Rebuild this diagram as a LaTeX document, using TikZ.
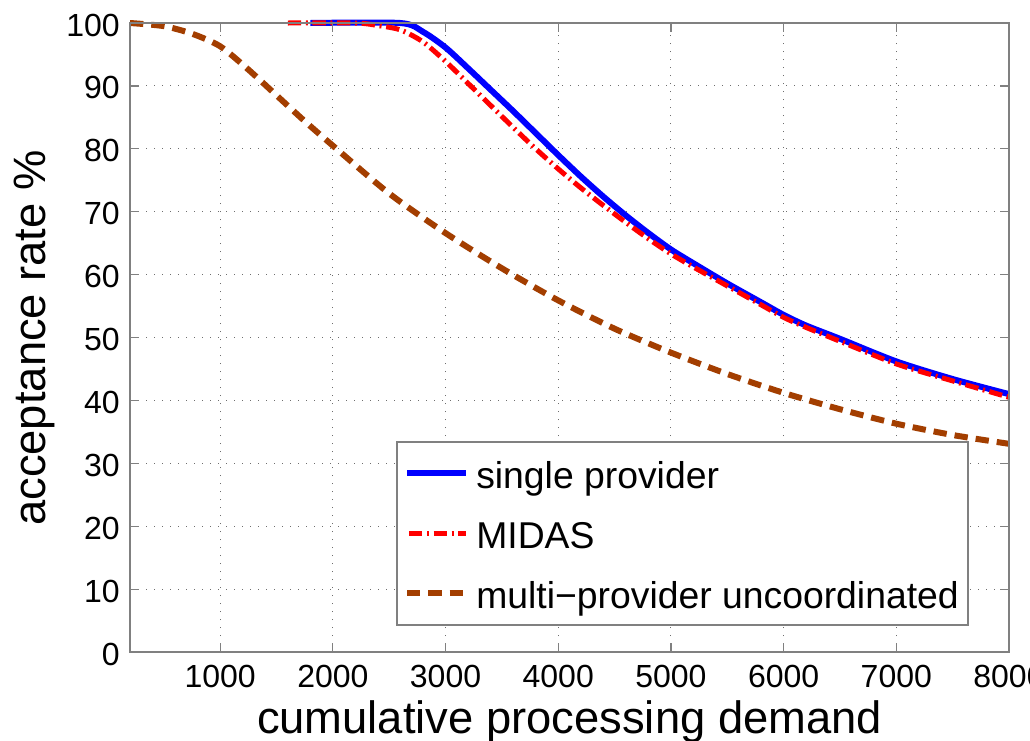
\documentclass[tikz,border=0pt]{standalone}
\usepackage{fontspec}
\setmainfont{Liberation Sans}
\definecolor{axgray}{RGB}{128,128,128}
\definecolor{gridgray}{RGB}{110,110,110}
\definecolor{mblue}{RGB}{0,0,255}
\definecolor{mred}{RGB}{255,0,0}
\definecolor{mbrown}{RGB}{163,62,0}
\begin{document}
\begin{tikzpicture}[x=0.75pt,y=-0.75pt,
  axisline/.style={draw=axgray,line width=0.9pt},
  gridline/.style={draw=gridgray,line width=0.8pt,dash pattern=on 0.8pt off 5.2pt},
  ticklabel/.style={font=\fontsize{24}{28}\selectfont,inner sep=0pt},
  axislabel/.style={font=\fontsize{34}{40}\selectfont,inner sep=0pt},
  legendlabel/.style={font=\fontsize{28}{32}\selectfont,inner sep=0pt,anchor=base west},
  singlestyle/.style={draw=mblue,line width=4.5pt},
  midasstyle/.style={draw=mred,line width=3.75pt,dash pattern=on 10pt off 3.5pt on 1.5pt off 3.5pt},
  multistyle/.style={draw=mbrown,line width=4.5pt,dash pattern=on 10pt off 6pt}]
\clip (0,0) rectangle (1030,740);
\fill[white] (0,0) rectangle (1030,740);
\begin{scope}[shift={(107.46,652)},x=0.084518pt,y=4.7175pt]
  % grid
  \foreach \v in {1000,2000,...,7000} \draw[gridline] (\v,0) -- (\v,100);
  \foreach \p in {10,20,...,90} \draw[gridline] (200,\p) -- (8000,\p);
  % curves
  \draw[singlestyle,line join=round] plot[smooth,tension=0.45] coordinates {
    (1800,100) (2600,100) (2800,98.6) (3000,96.1) (3200,92.8) (3400,89.4) (3600,86) (3800,82.5)
    (4000,79) (4200,75.6) (4400,72.4) (4600,69.4) (4800,66.6) (5000,64) (5200,61.8)
    (5500,58.6) (5800,55.6) (6000,53.6) (6200,51.9) (6500,49.8) (7000,46.2) (7500,43.4) (8000,41)};
  \draw[midasstyle] plot[smooth,tension=0.45] coordinates {
    (1600,100) (2200,100) (2400,99.6) (2600,98.9) (2800,97) (3000,93.9) (3200,90.4) (3400,86.9)
    (3600,83.4) (3800,80) (4000,76.8) (4200,73.8) (4400,71) (4600,68.3) (4800,65.7)
    (5000,63.3) (5200,61.2) (5500,58.2) (5800,55.2) (6000,53.2) (6200,51.6) (6500,49.4)
    (7000,45.8) (7500,43.1) (8000,40.5)};
  \draw[multistyle] plot[smooth,tension=0.45] coordinates {
    (200,100) (500,99.5) (750,98.3) (1000,96.3) (1250,92.6) (1500,88.5) (1750,84.4) (2000,80.5)
    (2500,72.9) (3000,66.6) (3500,61) (4000,55.9) (4500,51.4) (5000,47.6) (5500,44.2)
    (6000,41.2) (6500,38.6) (7000,36.3) (7500,34.5) (8000,33.1)};
  % ticks
  \foreach \v in {1000,2000,...,7000} {
    \draw[axisline] (\v,0) -- ++(0,1.43);
    \draw[axisline] (\v,100) -- ++(0,-1.43);
  }
  \foreach \p in {10,20,...,90} {
    \draw[axisline] (200,\p) -- ++(80,0);
    \draw[axisline] (8000,\p) -- ++(-80,0);
  }
  \draw[axisline] (200,0) rectangle (8000,100);
  % tick labels
  \foreach \v in {1000,2000,...,8000}
    \node[ticklabel,anchor=base] (xt\v) at (\v,0) [yshift=-26.25pt] {\v};
  \foreach \p in {0,10,...,100}
    \node[ticklabel,anchor=east] (yt\p) at (200,\p) [xshift=-7.5pt,yshift=-1.5pt] {\p};
\end{scope}
% axis labels
\node[axislabel,anchor=base] (xlabel) at (569.5,733) {cumulative processing demand};
\node[axislabel,anchor=base,rotate=90] (ylabel) at (45,338) {acceptance rate \%};
% legend
\draw[draw=axgray,line width=0.9pt,fill=white] (397,442) rectangle (968,625);
\coordinate (l1a) at (407,473); \coordinate (l1b) at (466,473);
\coordinate (l2a) at (407,533); \coordinate (l2b) at (466,533);
\coordinate (l3a) at (407,593); \coordinate (l3b) at (466,593);
\draw[singlestyle] (l1a) -- (l1b);
\draw[midasstyle,dash phase=-1.5pt] (l2a) -- (l2b);
\draw[multistyle] (l3a) -- (l3b);
\node[legendlabel] (t1) at (476,488) {single provider};
\node[legendlabel] (t2) at (476,548) {MIDAS};
\node[legendlabel] (t3) at (476,608) {multi−provider uncoordinated};
\end{tikzpicture}
\end{document}
